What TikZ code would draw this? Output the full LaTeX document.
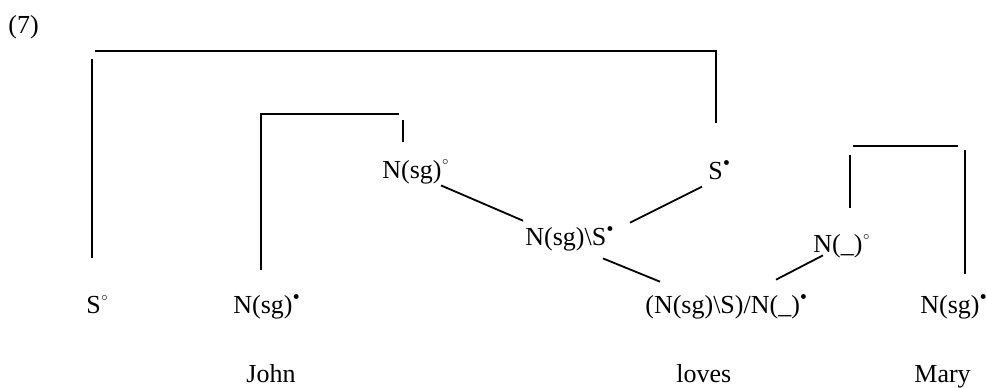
\documentclass[tikz,border=0pt]{standalone}
\usepackage{fontspec}
\setmainfont{Liberation Serif}
\usetikzlibrary{positioning,calc}
\newcommand{\wcirc}{\raisebox{6.75pt}{\fontsize{5pt}{5pt}\selectfont$\circ$}}
\newcommand{\bdot}{\raisebox{7pt}{\fontsize{4pt}{4pt}\selectfont$\bullet$}}

\begin{document}
\begin{tikzpicture}[
  x=0.5pt,y=-0.5pt,
  cat/.style={font=\fontsize{13pt}{15pt}\selectfont,inner sep=0pt,anchor=base west},
  ln/.style={line width=0.9pt}
]
\useasboundingbox (0,0) rectangle (986,387);
% example number
\node[cat] (ex)    at (8,33.5)    {(7)};
% categories
\node[cat] (so)    at (86,313.5)  {S\wcirc};
\node[cat] (nsgj)  at (233,313.5) {N(sg)\bdot};
\node[cat] (nsgo)  at (382,178)   {N(sg)\wcirc};
\node[cat] (nsgs)  at (525,245.5) {N(sg)\textbackslash S\bdot};
\node[cat] (sdot)  at (708,179)   {S\bdot};
\node[cat] (verb)  at (645,313.5) {(N(sg)\textbackslash S)/N(\_)\bdot};
\node[cat] (nmo)   at (813,252.5) {N(\_)\wcirc};
\node[cat] (nsgm)  at (920,313.5) {N(sg)\bdot};
% words
\node[cat] (john)  at (246,382)   {John};
\node[cat] (loves) at (676,382)   {loves};
\node[cat] (mary)  at (914,382)   {Mary};
% tree edges
\draw[ln] ([xshift=29.5pt,yshift=-0.7pt]nsgo.south west) -- ([xshift=-1pt,yshift=2.75pt]nsgs.north west);
\draw[ln] ([xshift=52.5pt,yshift=1.75pt]nsgs.north west) -- ([xshift=-3pt,yshift=-3.5pt]sdot.south west);
\draw[ln] ([xshift=39pt,yshift=-3.45pt]nsgs.south west) -- ([xshift=7.5pt,yshift=6.25pt]verb.north west);
\draw[ln] ([xshift=5pt,yshift=1.55pt]nmo.south west) -- ([xshift=65.5pt,yshift=7.25pt]verb.north west);
% links S -- S
\coordinate (lkAa) at (92,258);  \coordinate (lkAb) at (92,59);
\coordinate (lkAc) at (95,51);   \coordinate (lkAd) at (716,51);
\coordinate (lkAe) at (716,123);
\draw[ln] (lkAa) -- (lkAb);
\draw[ln] (lkAc) -- (lkAd) -- (lkAe);
% links N(sg) -- N(sg)
\coordinate (lkBa) at (261,270); \coordinate (lkBb) at (261,114);
\coordinate (lkBc) at (399,114); \coordinate (lkBd) at (403,120);
\coordinate (lkBe) at (403,142);
\draw[ln] (lkBa) -- (lkBb) -- (lkBc);
\draw[ln] (lkBd) -- (lkBe);
% links N(_) -- N(sg)
\coordinate (lkCa) at (850,208); \coordinate (lkCb) at (850,155);
\coordinate (lkCc) at (853,146); \coordinate (lkCd) at (958,146);
\coordinate (lkCe) at (965,150); \coordinate (lkCf) at (965,274);
\draw[ln] (lkCa) -- (lkCb);
\draw[ln] (lkCc) -- (lkCd);
\draw[ln] (lkCe) -- (lkCf);
\end{tikzpicture}
\end{document}
